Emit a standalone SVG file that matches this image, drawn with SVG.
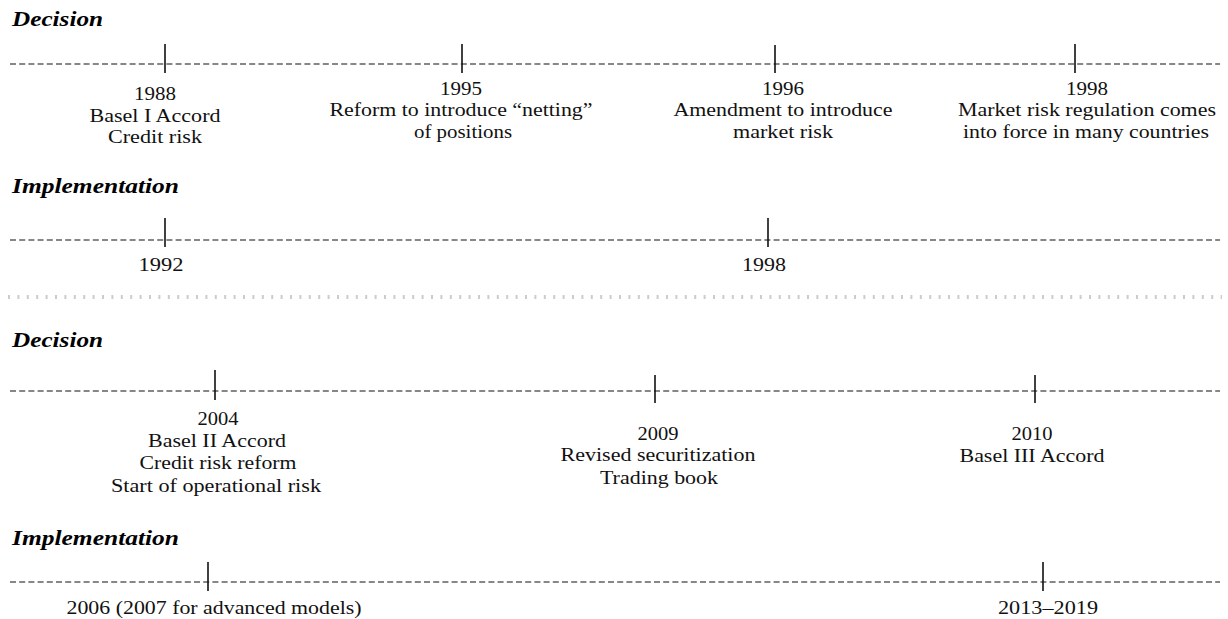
<svg xmlns="http://www.w3.org/2000/svg" width="1228" height="619" viewBox="0 0 1228 619">
<style>
.h{font-family:"Liberation Serif",serif;font-weight:bold;font-style:italic;font-size:20px;fill:#000}
.t{font-family:"Liberation Serif",serif;font-size:19px;fill:#111;text-anchor:middle}
.axis{stroke:#111;stroke-width:1.1;stroke-dasharray:6 3.2;fill:none}
.tick{stroke:#111;stroke-width:1.6}
.sep{stroke:#ccc;stroke-width:4;stroke-dasharray:2 7.4}
</style>
<rect width="1228" height="619" fill="#fff"/>
<g id="labels">
<text class="h" x="12" y="26" textLength="91" lengthAdjust="spacingAndGlyphs">Decision</text>
<text class="h" x="12" y="193" textLength="167" lengthAdjust="spacingAndGlyphs">Implementation</text>
<text class="h" x="12" y="347" textLength="91" lengthAdjust="spacingAndGlyphs">Decision</text>
<text class="h" x="12" y="545" textLength="167" lengthAdjust="spacingAndGlyphs">Implementation</text>
</g>
<g id="connectors">
<line class="axis" x1="10" y1="64" x2="1220" y2="64"/>
<line class="axis" x1="10" y1="240" x2="1220" y2="240"/>
<line class="sep" x1="8" y1="297" x2="1222" y2="297"/>
<line class="axis" x1="10" y1="391" x2="1220" y2="391"/>
<line class="axis" x1="10" y1="582" x2="1220" y2="582"/>
</g>
<g id="d1988"><line class="tick" x1="165" y1="44" x2="165" y2="73"/>
<text class="t" x="155" y="100" textLength="42" lengthAdjust="spacingAndGlyphs">1988</text>
<text class="t" x="155" y="122" textLength="131" lengthAdjust="spacingAndGlyphs">Basel I Accord</text>
<text class="t" x="155" y="143" textLength="94" lengthAdjust="spacingAndGlyphs">Credit risk</text></g>
<g id="d1995"><line class="tick" x1="462" y1="44" x2="462" y2="73"/>
<text class="t" x="461" y="95" textLength="42" lengthAdjust="spacingAndGlyphs">1995</text>
<text class="t" x="461" y="116" textLength="263" lengthAdjust="spacingAndGlyphs">Reform to introduce “netting”</text>
<text class="t" x="463" y="138" textLength="98" lengthAdjust="spacingAndGlyphs">of positions</text></g>
<g id="d1996"><line class="tick" x1="775" y1="45" x2="775" y2="73"/>
<text class="t" x="783" y="95" textLength="42" lengthAdjust="spacingAndGlyphs">1996</text>
<text class="t" x="783" y="116" textLength="219" lengthAdjust="spacingAndGlyphs">Amendment to introduce</text>
<text class="t" x="783" y="138" textLength="100" lengthAdjust="spacingAndGlyphs">market risk</text></g>
<g id="d1998"><line class="tick" x1="1075" y1="44" x2="1075" y2="73"/>
<text class="t" x="1087" y="95" textLength="42" lengthAdjust="spacingAndGlyphs">1998</text>
<text class="t" x="1087" y="116" textLength="258" lengthAdjust="spacingAndGlyphs">Market risk regulation comes</text>
<text class="t" x="1086" y="138" textLength="246" lengthAdjust="spacingAndGlyphs">into force in many countries</text></g>
<g id="i1992"><line class="tick" x1="165" y1="218" x2="165" y2="247"/>
<text class="t" x="161" y="271" textLength="45" lengthAdjust="spacingAndGlyphs">1992</text></g>
<g id="i1998"><line class="tick" x1="768" y1="218" x2="768" y2="247"/>
<text class="t" x="764" y="271" textLength="44" lengthAdjust="spacingAndGlyphs">1998</text></g>
<g id="d2004"><line class="tick" x1="215" y1="370" x2="215" y2="400"/>
<text class="t" x="218" y="425" textLength="41" lengthAdjust="spacingAndGlyphs">2004</text>
<text class="t" x="217" y="447" textLength="138" lengthAdjust="spacingAndGlyphs">Basel II Accord</text>
<text class="t" x="218" y="469" textLength="157" lengthAdjust="spacingAndGlyphs">Credit risk reform</text>
<text class="t" x="216" y="492" textLength="210" lengthAdjust="spacingAndGlyphs">Start of operational risk</text></g>
<g id="d2009"><line class="tick" x1="655" y1="375" x2="655" y2="403"/>
<text class="t" x="658" y="440" textLength="41" lengthAdjust="spacingAndGlyphs">2009</text>
<text class="t" x="658" y="461" textLength="195" lengthAdjust="spacingAndGlyphs">Revised securitization</text>
<text class="t" x="659" y="484" textLength="118" lengthAdjust="spacingAndGlyphs">Trading book</text></g>
<g id="d2010"><line class="tick" x1="1035" y1="375" x2="1035" y2="403"/>
<text class="t" x="1032" y="440" textLength="41" lengthAdjust="spacingAndGlyphs">2010</text>
<text class="t" x="1032" y="462" textLength="145" lengthAdjust="spacingAndGlyphs">Basel III Accord</text></g>
<g id="i2006"><line class="tick" x1="208" y1="562" x2="208" y2="591"/>
<text class="t" x="214" y="614" textLength="295" lengthAdjust="spacingAndGlyphs">2006 (2007 for advanced models)</text></g>
<g id="i2013"><line class="tick" x1="1043" y1="562" x2="1043" y2="591"/>
<text class="t" x="1048" y="614" textLength="100" lengthAdjust="spacingAndGlyphs">2013–2019</text></g>
</svg>
